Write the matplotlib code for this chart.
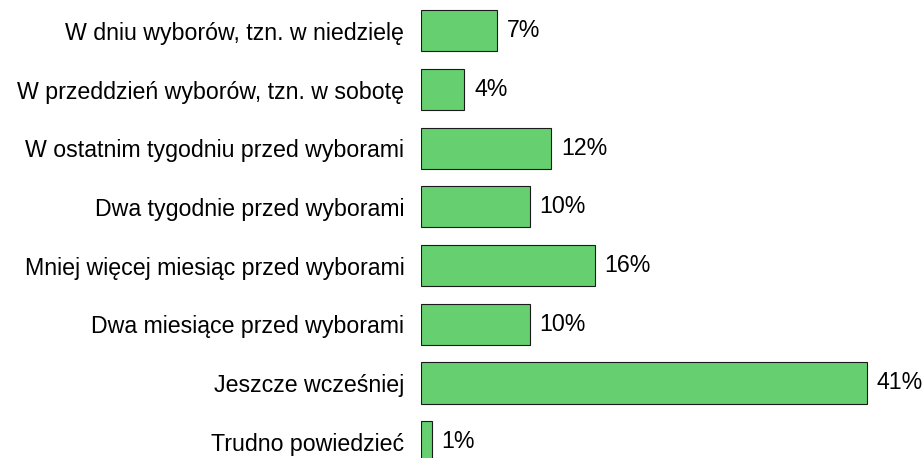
import matplotlib
matplotlib.use("Agg")
import matplotlib.pyplot as plt

categories = [
    "W dniu wyborów, tzn. w niedzielę",
    "W przeddzień wyborów, tzn. w sobotę",
    "W ostatnim tygodniu przed wyborami",
    "Dwa tygodnie przed wyborami",
    "Mniej więcej miesiąc przed wyborami",
    "Dwa miesiące przed wyborami",
    "Jeszcze wcześniej",
    "Trudno powiedzieć",
]
values = [7, 4, 12, 10, 16, 10, 41, 1]

plt.rcParams['font.family'] = ['Liberation Sans', 'DejaVu Sans']
fs = 16.7

fig = plt.figure(figsize=(9.23, 4.58), dpi=100)
ax = fig.add_axes([421 / 923, -13 / 458, 500 / 923, 469.5 / 458])

pos = list(range(len(categories)))
ax.barh(pos, values, height=0.7, color='#66cf70', edgecolor='#1a1a1a', linewidth=0.8)

for p, v in zip(pos, values):
    ax.annotate(f"{v}%", xy=(v, p), xytext=(7, 0), textcoords='offset points',
                va='center', ha='left', fontsize=fs)

ax.set_xlim(0, 46)
ax.set_ylim(7.5, -0.5)
ax.set_yticks(pos)
ax.set_yticklabels(categories, fontsize=fs)
ax.tick_params(axis='y', length=0, pad=12)
ax.set_xticks([])
for s in ax.spines.values():
    s.set_visible(False)

fig.savefig("out.png", dpi=100)
